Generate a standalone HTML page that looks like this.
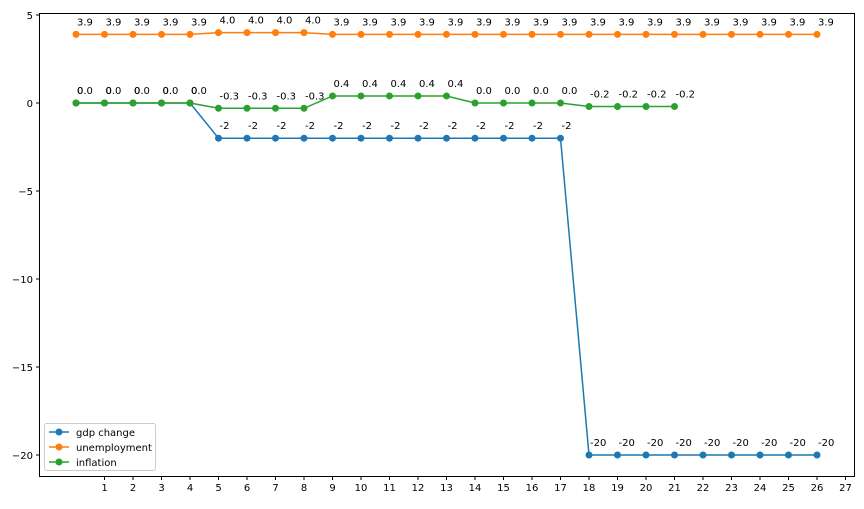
<!DOCTYPE html>
<html><head><meta charset="utf-8"><style>body{margin:0;background:#fff}svg{font-family:"DejaVu Sans","Liberation Sans",sans-serif}</style></head>
<body>
<svg id="chart" width="864" height="504" xmlns="http://www.w3.org/2000/svg">
<rect x="0" y="0" width="864" height="504" fill="#fff"/>
<g id="marks"></g>
<rect x="39.5" y="13.5" width="815" height="463" fill="none" stroke="#000" stroke-width="1"/>
<g id="axes" font-size="10"></g>
<g>
<rect x="44.5" y="423.5" width="111" height="47" rx="2" fill="#fff" stroke="#ccc"/>
<g><line x1="49" y1="432" x2="69" y2="432" stroke="#1f77b4" stroke-width="1.5"/><circle cx="59" cy="432" r="3.5" fill="#1f77b4"/><text x="76" y="436" font-size="10">gdp change</text></g>
<g><line x1="49" y1="447" x2="69" y2="447" stroke="#ff7f0e" stroke-width="1.5"/><circle cx="59" cy="447" r="3.5" fill="#ff7f0e"/><text x="76" y="451" font-size="10">unemployment</text></g>
<g><line x1="49" y1="462" x2="69" y2="462" stroke="#2ca02c" stroke-width="1.5"/><circle cx="59" cy="462" r="3.5" fill="#2ca02c"/><text x="76" y="466" font-size="10">inflation</text></g>
</g>
</svg>
<script>
const gdp=[0,0,0,0,0,-2,-2,-2,-2,-2,-2,-2,-2,-2,-2,-2,-2,-2,-20,-20,-20,-20,-20,-20,-20,-20,-20];
const gdpLabels=["0","0","0","0","0","-2","-2","-2","-2","-2","-2","-2","-2","-2","-2","-2","-2","-2","-20","-20","-20","-20","-20","-20","-20","-20","-20"];
const unemployment=[3.9,3.9,3.9,3.9,3.9,4.0,4.0,4.0,4.0,3.9,3.9,3.9,3.9,3.9,3.9,3.9,3.9,3.9,3.9,3.9,3.9,3.9,3.9,3.9,3.9,3.9,3.9];
const inflation=[0,0,0,0,0,-0.3,-0.3,-0.3,-0.3,0.4,0.4,0.4,0.4,0.4,0,0,0,0,-0.2,-0.2,-0.2,-0.2];
const xTicks=[1,2,3,4,5,6,7,8,9,10,11,12,13,14,15,16,17,18,19,20,21,22,23,24,25,26,27];
const yTicks=[5,0,-5,-10,-15,-20];
const NS="http://www.w3.org/2000/svg";
const xs=v=>76+v*28.5;
const ys=v=>103-v*17.6;
const marks=document.getElementById('marks'),axes=document.getElementById('axes');
function mk(t,a,p){const e=document.createElementNS(NS,t);for(const k in a)e.setAttribute(k,a[k]);p.appendChild(e);return e;}
function series(name,vals,labels,color){
  const g=mk('g',{},marks);
  
  
  mk('polyline',{points:vals.map((v,i)=>xs(i)+','+ys(v)).join(' '),fill:'none',stroke:color,'stroke-width':1.5},g);
  vals.forEach((v,i)=>{
    const c=mk('circle',{cx:xs(i),cy:ys(v),r:3.5,fill:color},g);
    
    
    const t=mk('text',{x:xs(i)+1,y:ys(v)-9,'font-size':10},g);
    
    
    t.textContent=labels[i];
  });
}
series('gdp',gdp,gdpLabels,'#1f77b4');
series('unemployment',unemployment,unemployment.map(v=>v.toFixed(1)),'#ff7f0e');
series('inflation',inflation,inflation.map(v=>v.toFixed(1)),'#2ca02c');
xTicks.forEach(v=>{
  mk('line',{x1:xs(v),x2:xs(v),y1:476.5,y2:480,stroke:'#000'},axes);
  const t=mk('text',{x:xs(v),y:491,'text-anchor':'middle'},axes);
  
  
  t.textContent=v;
});
yTicks.forEach(v=>{
  mk('line',{x1:36,x2:39.5,y1:ys(v),y2:ys(v),stroke:'#000'},axes);
  const t=mk('text',{x:33,y:ys(v)+4,'text-anchor':'end'},axes);
  
  
  t.textContent=String(v).replace('-','\u2212');
});
</script>
</body></html>
